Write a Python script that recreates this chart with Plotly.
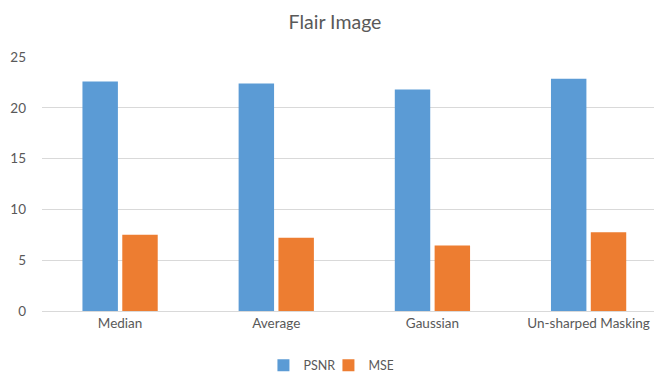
import plotly.graph_objects as go

categories = ["Median", "Average", "Gaussian", "Un-sharped Masking"]
psnr = [22.6, 22.4, 21.8, 22.85]
mse = [7.5, 7.2, 6.45, 7.75]
y_ticks = [0, 5, 10, 15, 20, 25]

fig = go.Figure()
fig.add_trace(go.Bar(name="PSNR", x=categories, y=psnr, marker=dict(color="#5B9BD5", line=dict(width=0))))
fig.add_trace(go.Bar(name="MSE", x=categories, y=mse, marker=dict(color="#ED7D31", line=dict(width=0))))

# The page body has an 8px default margin, so the figure is sized to fit the window.
font_family = "Lato, 'Open Sans', sans-serif"
fig.update_layout(
    width=654, height=373,
    margin=dict(l=34, r=0, t=49, b=68),
    paper_bgcolor="white", plot_bgcolor="white",
    barmode="group", bargap=0.49, bargroupgap=0.11,
    title=dict(text="Flair Image", x=0.5, xanchor="center", y=0.962, yanchor="middle",
               font=dict(family=font_family, size=19.5, color="#595959")),
    font=dict(family=font_family, size=13, color="#595959"),
    showlegend=True,
    legend=dict(orientation="h", x=0.462, xanchor="center", y=-0.215, yanchor="middle",
                font=dict(size=12.5, color="#595959"), itemwidth=30, traceorder="normal",
                entrywidth=20, entrywidthmode="pixels"),
    xaxis=dict(type="category", range=[-0.5, 3.47], showgrid=False, showline=True,
               linecolor="#d9d9d9", linewidth=1, ticks="", tickfont=dict(size=13.5, color="#595959")),
    yaxis=dict(range=[0, 25], tickvals=y_ticks, showgrid=True, gridcolor="#d9d9d9", gridwidth=1,
               zeroline=False, showline=False, ticks="", ticklabelstandoff=15,
               tickfont=dict(size=13.5, color="#595959")),
)

fig.write_html("out.html")
